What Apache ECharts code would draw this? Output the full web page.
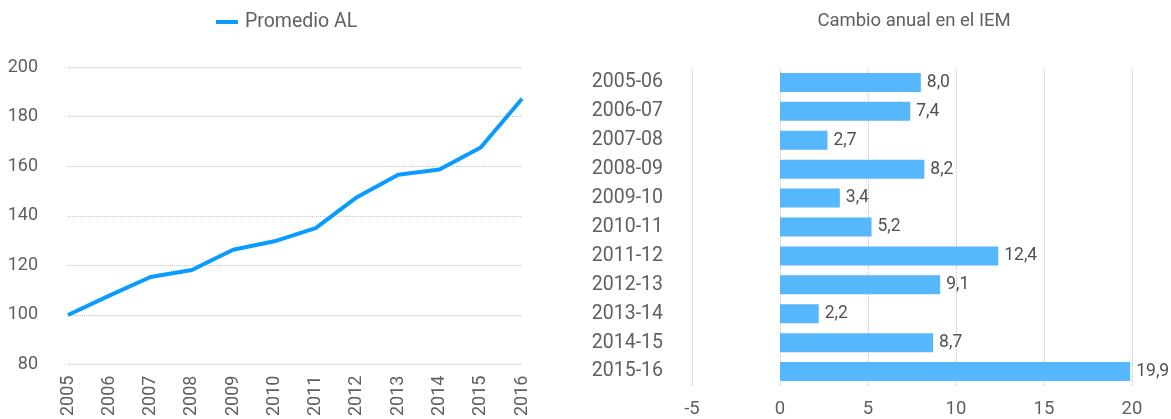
<!DOCTYPE html>
<html>
<head>
<meta charset="utf-8">
<script src="https://cdn.jsdelivr.net/npm/echarts@6/dist/echarts.min.js"></script>
<style>html,body{margin:0;padding:0;background:#fff}#c{width:1171px;height:419px}</style>
</head>
<body>
<div id="c"></div>
<script>
const years = ['2005','2006','2007','2008','2009','2010','2011','2012','2013','2014','2015','2016'];
const promedioAL = [100, 107.8, 115.3, 118.1, 126.3, 129.7, 135.0, 147.5, 156.5, 158.7, 167.5, 187.2];
const periods = ['2005-06','2006-07','2007-08','2008-09','2009-10','2010-11','2011-12','2012-13','2013-14','2014-15','2015-16'];
const cambioAnual = [8.0, 7.4, 2.7, 8.2, 3.4, 5.2, 12.4, 9.1, 2.2, 8.7, 19.9];

const font = 'Roboto, "DejaVu Sans", sans-serif';
const txt = '#5f5f5f';
const chart = echarts.init(document.getElementById('c'), null, {renderer: 'canvas'});
chart.setOption({
  animation: false,
  textStyle: {fontFamily: font},
  legend: {
    data: ['Promedio AL'], left: 211, top: 7, itemWidth: 22, itemHeight: 4,
    icon: 'rect', itemGap: 10,
    textStyle: {fontFamily: font, fontSize: 19.5, color: txt, padding: [0, 0, 0, 2]}
  },
  title: {
    text: 'Cambio anual en el IEM', left: 909, top: 7, textAlign: 'center',
    textStyle: {fontFamily: font, fontSize: 18.5, fontWeight: 'normal', color: txt}
  },
  grid: [
    {left: 68, right: 649, top: 67, bottom: 51},
    {left: 692, right: 39, top: 68, bottom: 33}
  ],
  xAxis: [
    {
      gridIndex: 0, type: 'category', data: years, boundaryGap: false,
      axisLine: {show: false}, axisTick: {show: false},
      axisLabel: {rotate: 90, margin: 11, fontSize: 18, color: txt, fontFamily: font}
    },
    {
      gridIndex: 1, type: 'value', min: -5, max: 20, interval: 5,
      axisLine: {show: false}, axisTick: {show: false},
      axisLabel: {fontSize: 18.5, color: txt, margin: 14, fontFamily: font},
      splitLine: {show: true, lineStyle: {type: 'dotted', color: '#c4c4c4', width: 1}}
    }
  ],
  yAxis: [
    {
      gridIndex: 0, type: 'value', min: 80, max: 200, interval: 20,
      axisLine: {show: false}, axisTick: {show: false},
      axisLabel: {fontSize: 18, color: txt, margin: 30, fontFamily: font, padding: [6, 0, 0, 0]},
      splitLine: {lineStyle: {type: 'dotted', color: '#c4c4c4', width: 1}}
    },
    {
      gridIndex: 1, type: 'category', data: periods, inverse: true,
      axisLine: {show: false, onZero: false}, axisTick: {show: false},
      axisLabel: {fontSize: 19.5, color: txt, margin: 29, fontFamily: font, padding: [4, 0, 0, 0]}
    }
  ],
  series: [
    {
      name: 'Promedio AL', type: 'line', xAxisIndex: 0, yAxisIndex: 0,
      data: promedioAL, showSymbol: false, symbol: 'none',
      lineStyle: {color: '#0a9bff', width: 4}, itemStyle: {color: '#0a9bff'}
    },
    {
      name: 'Cambio anual', type: 'bar', xAxisIndex: 1, yAxisIndex: 1,
      data: cambioAnual, barWidth: 19,
      itemStyle: {color: '#52b5fd', opacity: 0.97},
      label: {
        show: true, position: 'right', distance: 6, fontSize: 17.5, color: '#4a4a4a', fontFamily: font,
        padding: [3, 0, 0, 0],
        formatter: p => p.value.toFixed(1).replace('.', ',')
      }
    }
  ]
});
</script>
</body>
</html>
